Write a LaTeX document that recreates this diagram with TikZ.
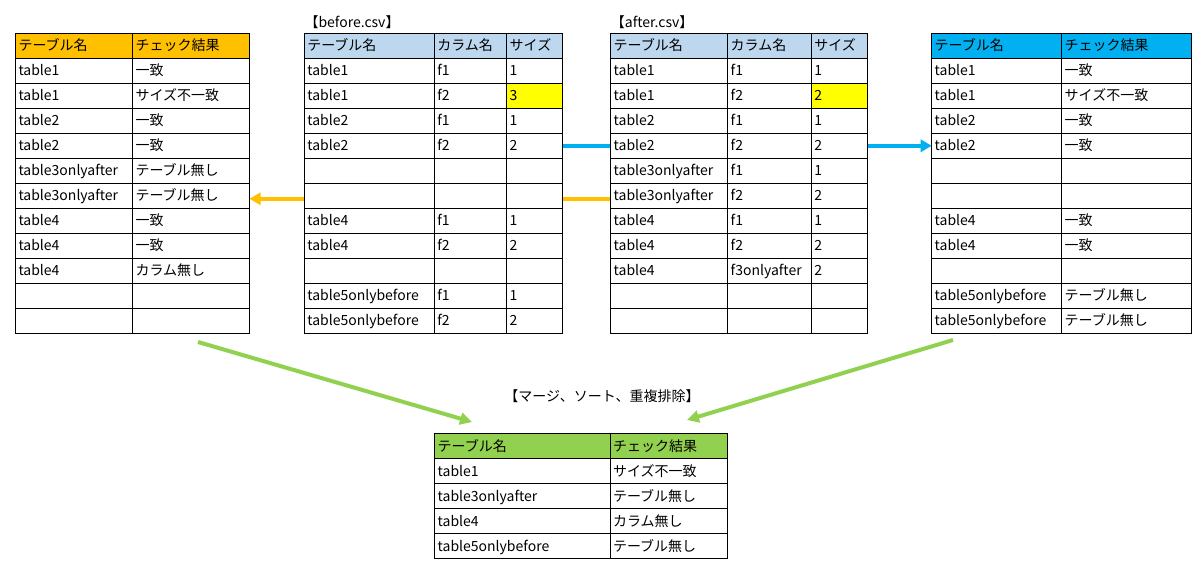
\documentclass[tikz,border=0pt]{standalone}
\usepackage{fontspec}
\setmainfont{Noto Sans CJK JP}
\usetikzlibrary{arrows.meta}
\usetikzlibrary{positioning}
\usetikzlibrary{backgrounds}
\definecolor{hdorange}{HTML}{FFC000}
\definecolor{hdblue}{HTML}{BDD7EE}
\definecolor{hdcyan}{HTML}{00B0F0}
\definecolor{hdgreen}{HTML}{92D050}
\definecolor{hlyellow}{HTML}{FFFF00}
\tikzset{
  cell/.style={draw=black,fill=white,line width=1pt,anchor=north west,
               outer sep=0pt,inner xsep=3pt,inner ysep=0pt,
               minimum height=25pt,text height=12pt,text depth=2pt,
               text width=#1,align=left},
  flow/.style={line width=3.5pt,-{Triangle[length=11pt,width=12pt]}},
  merge/.style={line width=4pt,draw=hdgreen,-{Triangle[length=12pt,width=12pt]}}
}

\begin{document}
\begin{tikzpicture}[x=1pt,y=-1pt,every node/.style={font=\fontsize{14}{16}\selectfont}]
 \useasboundingbox (0,0) rectangle (1202,569);

 \node[cell=111pt,fill=hdorange] (L-0-1) at (15.5,33.3) {テーブル名};
 \node[cell=111pt,fill=hdorange] (L-0-2) at (132.5,33.3) {チェック結果};
 \foreach \r/\a/\b in {1/table1/一致,2/table1/サイズ不一致,3/table2/一致,
     4/table2/一致,5/table3onlyafter/テーブル無し,6/table3onlyafter/テーブル無し,
     7/table4/一致,8/table4/一致,9/table4/カラム無し,10/{}/{},11/{}/{}}{
   \node[cell=111pt] (L-\r-1) at (15.5,33.3+25*\r) {\a};
   \node[cell=111pt] (L-\r-2) at (132.5,33.3+25*\r) {\b};
 }

 \node[cell=124pt,fill=hdblue] (B-0-1) at (304.3,33.3) {テーブル名};
 \node[cell=66.4pt,fill=hdblue] (B-0-2) at (434.3,33.3) {カラム名};
 \node[cell=50pt,fill=hdblue] (B-0-3) at (506.7,33.3) {サイズ};
 \foreach \r/\a/\b/\c/\f in {1/table1/f1/1/white,2/table1/f2/3/hlyellow,
     3/table2/f1/1/white,4/table2/f2/2/white,5/{}/{}/{}/white,6/{}/{}/{}/white,
     7/table4/f1/1/white,8/table4/f2/2/white,9/{}/{}/{}/white,
     10/table5onlybefore/f1/1/white,11/table5onlybefore/f2/2/white}{
   \node[cell=124pt] (B-\r-1) at (304.3,33.3+25*\r) {\a};
   \node[cell=66.4pt] (B-\r-2) at (434.3,33.3+25*\r) {\b};
   \node[cell=50pt,fill=\f] (B-\r-3) at (506.7,33.3+25*\r) {\c};
 }
 \node[above right=4pt and 0pt of B-0-1.north west,inner sep=0pt] (btitle) {【before.csv】};

 \node[cell=111pt,fill=hdblue] (A-0-1) at (610.7,33.3) {テーブル名};
 \node[cell=77.6pt,fill=hdblue] (A-0-2) at (727.7,33.3) {カラム名};
 \node[cell=50pt,fill=hdblue] (A-0-3) at (811.3,33.3) {サイズ};
 \foreach \r/\a/\b/\c/\f in {1/table1/f1/1/white,2/table1/f2/2/hlyellow,
     3/table2/f1/1/white,4/table2/f2/2/white,5/table3onlyafter/f1/1/white,
     6/table3onlyafter/f2/2/white,7/table4/f1/1/white,8/table4/f2/2/white,
     9/table4/f3onlyafter/2/white,10/{}/{}/{}/white,11/{}/{}/{}/white}{
   \node[cell=111pt] (A-\r-1) at (610.7,33.3+25*\r) {\a};
   \node[cell=77.6pt] (A-\r-2) at (727.7,33.3+25*\r) {\b};
   \node[cell=50pt,fill=\f] (A-\r-3) at (811.3,33.3+25*\r) {\c};
 }
 \node[above right=4pt and 0pt of A-0-1.north west,inner sep=0pt] (atitle) {【after.csv】};

 \node[cell=124pt,fill=hdcyan] (R-0-1) at (931.7,33.3) {テーブル名};
 \node[cell=124pt,fill=hdcyan] (R-0-2) at (1061.7,33.3) {チェック結果};
 \foreach \r/\a/\b in {1/table1/一致,2/table1/サイズ不一致,3/table2/一致,
     4/table2/一致,5/{}/{},6/{}/{},7/table4/一致,8/table4/一致,9/{}/{},
     10/table5onlybefore/テーブル無し,11/table5onlybefore/テーブル無し}{
   \node[cell=124pt] (R-\r-1) at (931.7,33.3+25*\r) {\a};
   \node[cell=124pt] (R-\r-2) at (1061.7,33.3+25*\r) {\b};
 }

 \node[cell=169.3pt,fill=hdgreen] (M-0-1) at (434.7,433.7) {テーブル名};
 \node[cell=111pt,fill=hdgreen] (M-0-2) at (610,433.7) {チェック結果};
 \foreach \r/\a/\b in {1/table1/サイズ不一致,2/table3onlyafter/テーブル無し,
     3/table4/カラム無し,4/table5onlybefore/テーブル無し}{
   \node[cell=169.3pt] (M-\r-1) at (434.7,433.7+25*\r) {\a};
   \node[cell=111pt] (M-\r-2) at (610,433.7+25*\r) {\b};
 }
 \node (mtitle) at (602,396) {【マージ、ソート、重複排除】};

 \begin{scope}[on background layer]
  \draw[flow,draw=hdcyan] (B-4-3.east) -- (R-4-1.west);
  \draw[flow,draw=hdorange] ([yshift=-3pt]A-6-1.west) -- ([yshift=-3pt]L-6-2.east);
 \end{scope}

 \coordinate (gl-start) at (198,342);
 \coordinate (gl-end) at (472,422);
 \coordinate (gr-start) at (953,340);
 \coordinate (gr-end) at (687,420);
 \draw[merge] (gl-start) -- (gl-end);
 \draw[merge] (gr-start) -- (gr-end);

\end{tikzpicture}
\end{document}
